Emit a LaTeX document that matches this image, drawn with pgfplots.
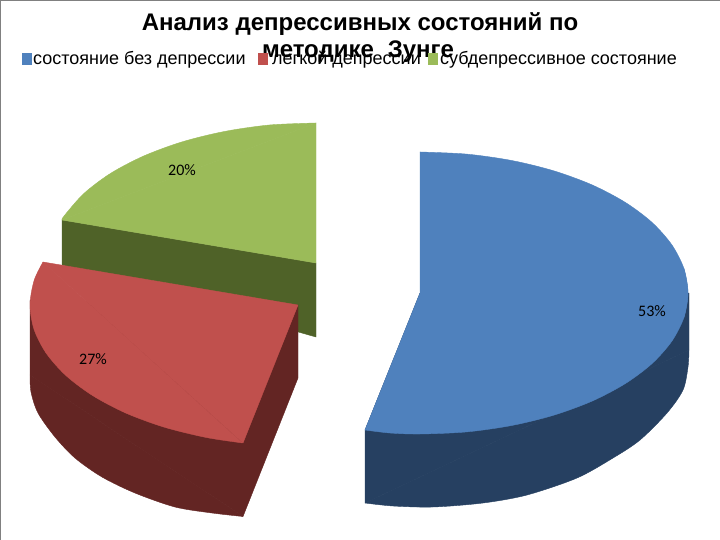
\documentclass[border=0pt]{standalone}
\usepackage{fontspec}
\setmainfont{Liberation Sans}
\newfontfamily\labelfont{Carlito}
\usepackage{pgfplots}
\pgfplotsset{compat=1.18}
\definecolor{blueTop}{RGB}{79,129,189}
\definecolor{blueSide}{RGB}{38,64,97}
\definecolor{redTop}{RGB}{192,80,77}
\definecolor{redSide}{RGB}{99,37,35}
\definecolor{greenTop}{RGB}{155,187,89}
\definecolor{greenSide}{RGB}{79,98,40}
\pgfplotsset{
  face/.style={fill=#1, draw=#1, line width=0.4pt, line join=round},
}
\begin{document}
\begin{tikzpicture}
\begin{axis}[
  width=720pt,
  height=540pt,
  scale only axis,
  xmin=0, xmax=720,
  ymin=0, ymax=540,
  y dir=reverse,
  hide axis,
]
% page, so the picture keeps the whole 720x540
\addplot [fill=white, draw=none] coordinates {(0,0) (720,0) (720,540) (0,540)} --cycle;
\addplot [color=gray, line width=1.5pt] coordinates {(0.7,540) (0.7,0.5) (720,0.5)};
% green slice
\addplot [face=greenSide] coordinates {(62,220) (316,263) (316,337) (62,265)} --cycle;
\addplot [face=greenTop] coordinates {(316,123) (62,220) (316,263)} --cycle;
\addplot [face=greenTop, smooth] coordinates {
  (316,123) (269.4,125) (224.3,131.5) (182,141.9) (143.7,156) (110.7,173.3) (83.9,193.5) (64.2,215.8) (62,220)
} --cycle;
% blue slice
\addplot [face=blueSide] coordinates {(689,293) (689,350) (365,503) (365,430) (420,293)} --cycle;
\addplot [face=blueSide, smooth] coordinates {
  (689,350) (688,367) (683,390) (667,413) (640,440) (613,458) (577,478) (527,495)
  (483,503) (433,507) (393,506) (365,503)
} --cycle;
\addplot [face=blueTop] coordinates {(420,152) (683.9,268.5) (683.9,317.5) (365,430) (420,293)} --cycle;
\addplot [face=blueTop, smooth] coordinates {
  (420,152) (466.5,154.1) (511.7,160.5) (554,170.9) (592.3,185) (625.3,202.4) (652.1,222.5)
  (671.8,244.8) (683.9,268.5) (688,293) (683.9,317.5)
} --cycle;
\addplot [face=blueTop, smooth] coordinates {
  (683.9,268.5) (688,293) (683.9,317.5) (671.8,341.2) (652.1,363.5) (625.3,383.6) (592.3,401)
  (554,415.1) (511.7,425.5) (466.5,431.9) (420,434) (390,433) (365,430)
} --cycle;
% red slice
\addplot [face=redSide] coordinates {(30,300) (30,375) (243,516.5) (298,378) (298,305)} --cycle;
\addplot [face=redSide, smooth] coordinates {
  (30,375) (31,392) (38,413) (55,437) (75,458) (102,477) (135,493) (175,507) (212,513) (243,516.5)
} --cycle;
\addplot [face=redTop] coordinates {(43,262) (298,305) (243,443)} --cycle;
\addplot [face=redTop, smooth] coordinates {
  (242.3,442.9) (206.3,437.5) (164,427.1) (125.7,413) (92.7,395.6) (65.9,375.5) (46.2,353.2)
  (34.1,329.5) (30,305) (34.1,280.5) (43,262)
} --cycle;
% title, then the legend on top of it
\node [font=\bfseries\fontsize{24}{24}\selectfont, anchor=center] at (axis cs:360,24) {Анализ депрессивных состояний по};
\node [font=\bfseries\fontsize{24}{24}\selectfont, anchor=center] at (axis cs:358,52) {методике\hspace{0.3em} Зунге};
\addplot [fill=blueTop, draw=none] coordinates {(22,53) (32,53) (32,65) (22,65)} --cycle;
\addplot [fill=redTop, draw=none] coordinates {(258,53) (268,53) (268,65) (258,65)} --cycle;
\addplot [fill=greenTop, draw=none] coordinates {(428,53) (438,53) (438,65) (428,65)} --cycle;
\node [font=\fontsize{18}{18}\selectfont, anchor=west, inner sep=0pt] at (axis cs:33,60) {состояние без депрессии};
\node [font=\fontsize{18}{18}\selectfont, anchor=west, inner sep=0pt] at (axis cs:272,60) {легкой депрессии};
\node [font=\fontsize{18}{18}\selectfont, anchor=west, inner sep=0pt] at (axis cs:440,60) {субдепрессивное состояние};
\node [font=\labelfont\fontsize{16}{16}\selectfont] at (axis cs:182,170) {20\%};
\node [font=\labelfont\fontsize{16}{16}\selectfont] at (axis cs:652,311) {53\%};
\node [font=\labelfont\fontsize{16}{16}\selectfont] at (axis cs:93,359) {27\%};
\end{axis}
\end{tikzpicture}
\end{document}
